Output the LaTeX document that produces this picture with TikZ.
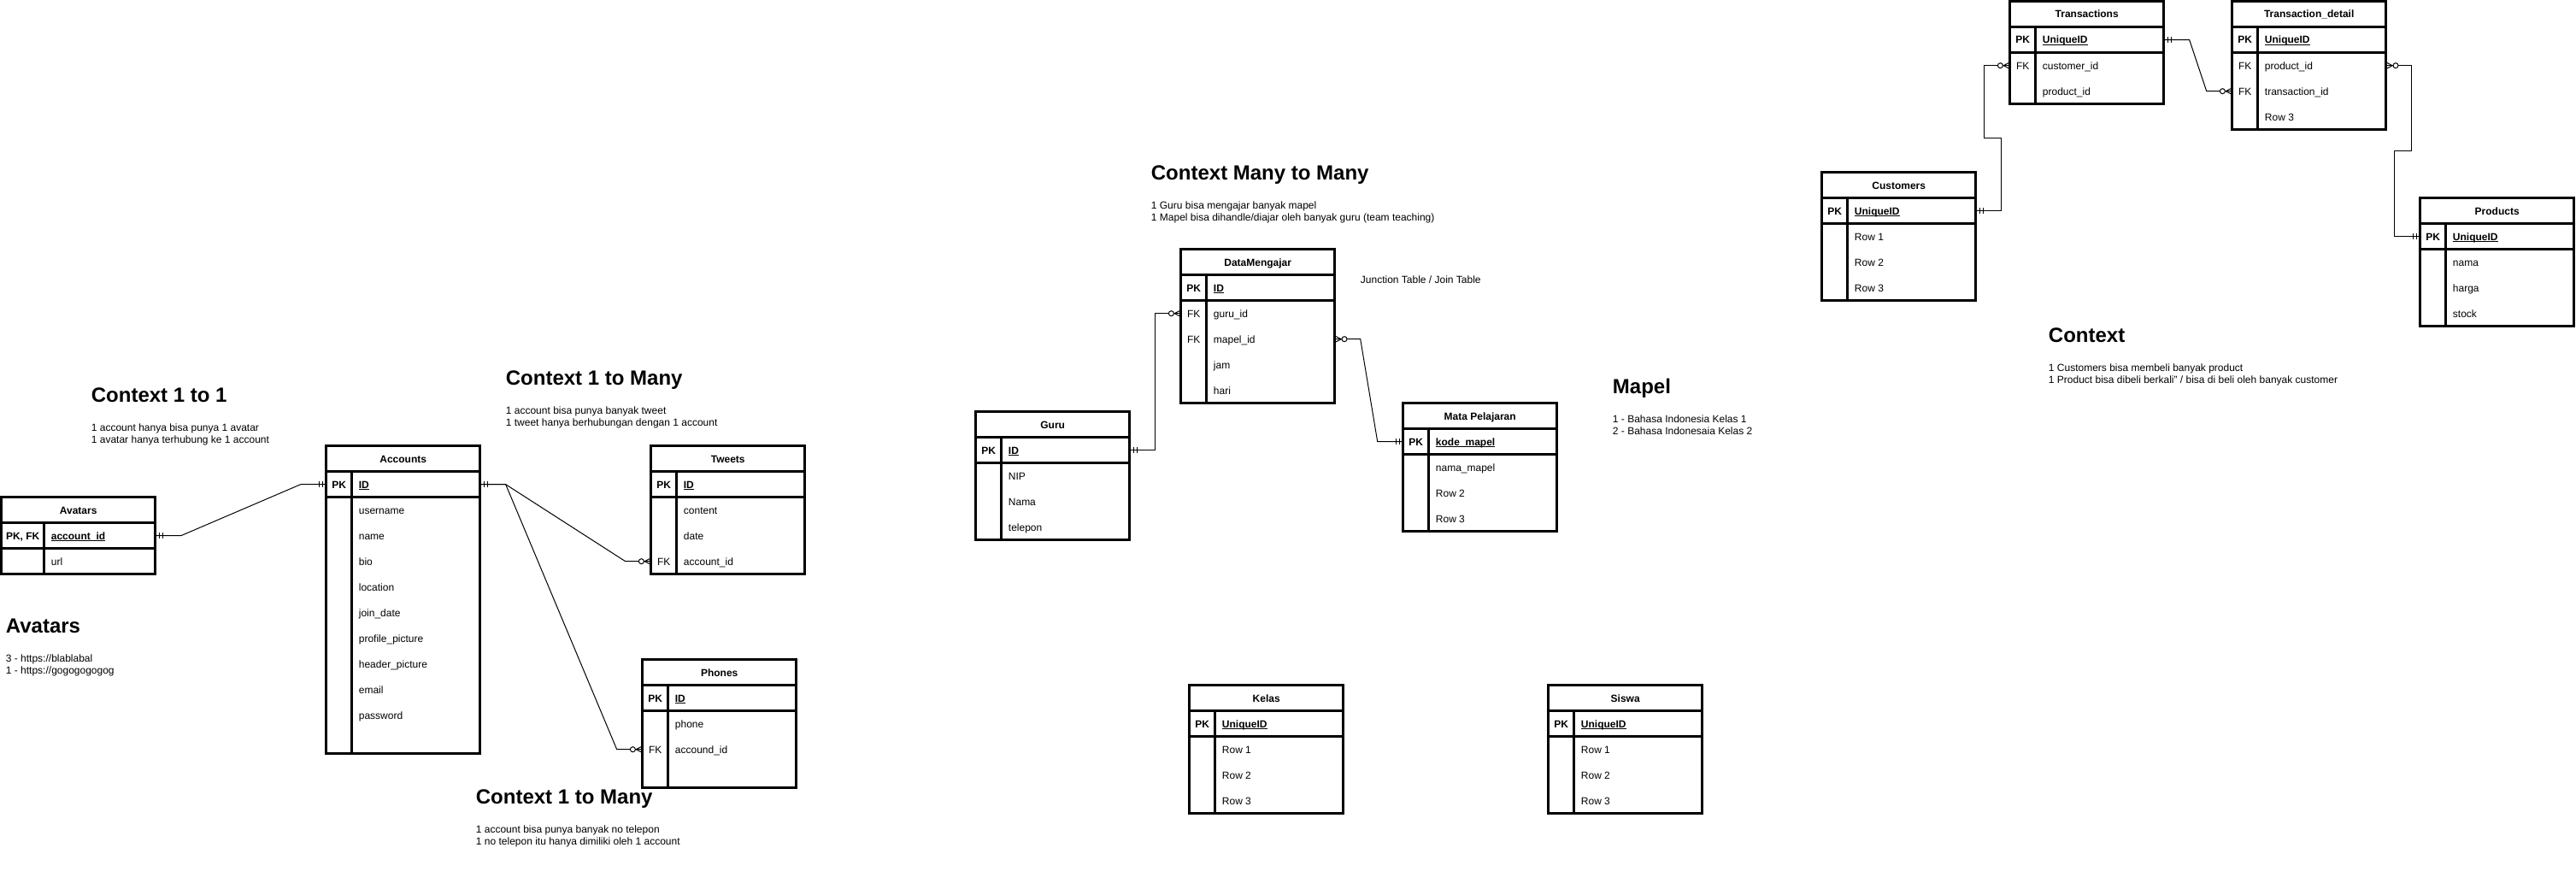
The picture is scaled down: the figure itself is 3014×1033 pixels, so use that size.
\documentclass[tikz,border=0pt]{standalone}
\usepackage{fontspec}
\setmainfont{Liberation Sans}
\usetikzlibrary{calc}
\newcommand\pkline[1]{\setbox0\hbox{\bfseries #1}\rlap{\rule[-2pt]{\wd0}{0.9pt}}\box0}
\tikzset{
  tabline/.style={line width=3pt, black},
  conn/.style={line width=1pt, black},
  rowbox/.style={rectangle, minimum width=180pt, minimum height=30pt, inner sep=0pt, outer sep=0pt},
  hdrtext/.style={anchor=base, inner sep=0pt, font=\fontsize{12}{14}\selectfont\bfseries},
  keytext/.style={anchor=base, inner sep=0pt, font=\fontsize{12}{14}\selectfont},
  keybold/.style={anchor=base, inner sep=0pt, font=\fontsize{12}{14}\selectfont\bfseries},
  fieldtext/.style={anchor=base west, inner sep=0pt, font=\fontsize{12}{14}\selectfont},
  headtxt/.style={anchor=base west, inner sep=0pt, font=\fontsize{24}{29}\selectfont\bfseries},
  bodytxt/.style={anchor=base west, inner sep=0pt, font=\fontsize{12}{14}\selectfont},
}
% #1 name, #2 x, #3 y, #4 key width, #5 title, #6 pk key, #7 pk field, #8 rows key/field
\newcommand\ertable[8]{%
\begin{scope}[shift={(#2,#3)}]
  \node[hdrtext] (#1-h) at (90,19.3) {#5};
  \node[rowbox] (#1-0) at (90,45) {};
  \node[keybold] (#1-k0) at (#4/2,49.3) {#6};
  \node[fieldtext] (#1-f0) at (#4+8,49.3) {\pkline{#7}};
  \gdef\nrows{0}
  \foreach \k/\f [count=\i] in {#8} {
    \node[rowbox] (#1-\i) at (90,45+30*\i) {};
    \node[keytext] (#1-k\i) at (#4/2,49.3+30*\i) {\k};
    \node[fieldtext] (#1-f\i) at (#4+8,49.3+30*\i) {\f};
    \xdef\nrows{\i}
  }
  \draw[tabline] (0,0) rectangle (180,60+30*\nrows);
  \draw[tabline] (0,30) -- (180,30);
  \draw[tabline] (0,60) -- (180,60);
  \draw[tabline] (#4,30) -- (#4,60+30*\nrows);
\end{scope}}
% mandatory-one marker: #1 anchor, #2 direction (+1 right, -1 left)
\newcommand\mkone[2]{%
  \draw[conn] ($(#1)+(#2*4.3,-3.5)$) -- ++(0,7);
  \draw[conn] ($(#1)+(#2*8.3,-3.5)$) -- ++(0,7);}
% zero-to-many marker
\newcommand\mkmany[2]{%
  \draw[conn] ($(#1)+(#2*7.5,0)$) -- ($(#1)+(0,-3.8)$);
  \draw[conn] ($(#1)+(#2*7.5,0)$) -- ($(#1)+(0,3.8)$);
  \draw[conn,fill=white] ($(#1)+(#2*11.3,0)$) circle[radius=3];}
\begin{document}
\begin{tikzpicture}[x=1pt,y=-1pt]
\path[use as bounding box, fill=white] (-1.7,-1.7) rectangle (3012.3,1031.3);

% ---------- tables ----------
\ertable{av}{0}{580}{50}{Avatars}{PK, FK}{account\_id}{{}/url}
\ertable{acc}{380}{520}{30}{Accounts}{PK}{ID}{{}/username,{}/name,{}/bio,{}/location,{}/join\_date,{}/profile\_picture,{}/header\_picture,{}/email,{}/password,{}/{}}
\ertable{tw}{760}{520}{30}{Tweets}{PK}{ID}{{}/content,{}/date,FK/account\_id}
\ertable{ph}{750}{770}{30}{Phones}{PK}{ID}{{}/phone,FK/accound\_id,{}/{}}
\ertable{guru}{1140}{480}{30}{Guru}{PK}{ID}{{}/NIP,{}/Nama,{}/telepon}
\ertable{dm}{1380}{290}{30}{DataMengajar}{PK}{ID}{FK/guru\_id,FK/mapel\_id,{}/jam,{}/hari}
\ertable{mp}{1640}{470}{30}{Mata Pelajaran}{PK}{kode\_mapel}{{}/nama\_mapel,{}/Row 2,{}/Row 3}
\ertable{kelas}{1390}{800}{30}{Kelas}{PK}{UniqueID}{{}/Row 1,{}/Row 2,{}/Row 3}
\ertable{siswa}{1810}{800}{30}{Siswa}{PK}{UniqueID}{{}/Row 1,{}/Row 2,{}/Row 3}
\ertable{cust}{2130}{200}{30}{Customers}{PK}{UniqueID}{{}/Row 1,{}/Row 2,{}/Row 3}
\ertable{tr}{2350}{0}{30}{Transactions}{PK}{UniqueID}{FK/customer\_id,{}/product\_id}
\ertable{td}{2610}{0}{30}{Transaction\_detail}{PK}{UniqueID}{FK/product\_id,FK/transaction\_id,{}/Row 3}
\ertable{pr}{2830}{230}{30}{Products}{PK}{UniqueID}{{}/nama,{}/harga,{}/stock}

% ---------- connectors ----------
\draw[conn] (av-0.east) -- ++(30,0) -- ($(acc-0.west)+(-30,0)$) -- (acc-0.west);
\draw[conn] (acc-0.east) -- ++(30,0) -- ($(tw-3.west)+(-30,0)$) -- (tw-3.west);
\draw[conn] (acc-0.east) -- ++(30,0) -- ($(ph-2.west)+(-30,0)$) -- (ph-2.west);
\draw[conn] (guru-0.east) -- ++(30,0) |- (dm-1.west);
\draw[conn] (dm-2.east) -- ++(30,0) -- ($(mp-0.west)+(-30,0)$) -- (mp-0.west);
\draw[conn] (cust-0.east) -- ++(30,0) -- ++(0,-85) -- ++(-20,0) |- (tr-1.west);
\draw[conn] (tr-0.east) -- ++(30,0) -- ($(td-2.west)+(-30,0)$) -- (td-2.west);
\draw[conn] (td-1.east) -- ++(30,0) -- ++(0,100) -- ++(-20,0) |- (pr-0.west);

\mkone{av-0.east}{1}
\mkone{acc-0.west}{-1}
\mkone{acc-0.east}{1}
\mkone{guru-0.east}{1}
\mkone{mp-0.west}{-1}
\mkone{cust-0.east}{1}
\mkone{tr-0.east}{1}
\mkone{pr-0.west}{-1}
\mkmany{tw-3.west}{-1}
\mkmany{ph-2.west}{-1}
\mkmany{dm-1.west}{-1}
\mkmany{dm-2.east}{1}
\mkmany{tr-1.west}{-1}
\mkmany{td-2.west}{-1}
\mkmany{td-1.east}{1}

% ---------- text ----------
\node[headtxt] (c11h) at (105,468.6) {Context 1 to 1};
\node[bodytxt] (c11a) at (105,502.6) {1 account hanya bisa punya 1 avatar};
\node[bodytxt] (c11b) at (105,516.6) {1 avatar hanya terhubung ke 1 account};

\node[headtxt] (avh) at (5,738.6) {Avatars};
\node[bodytxt] (ava) at (5,772.6) {3 - https://blablabal};
\node[bodytxt] (avb) at (5,786.6) {1 - https://gogogogogog};

\node[headtxt] (c1mh) at (590,448.6) {Context 1 to Many};
\node[bodytxt] (c1ma) at (590,482.6) {1 account bisa punya banyak tweet};
\node[bodytxt] (c1mb) at (590,496.6) {1 tweet hanya berhubungan dengan 1 account};

\node[headtxt] (c2mh) at (555,938.6) {Context 1 to Many};
\node[bodytxt] (c2ma) at (555,972.6) {1 account bisa punya banyak no telepon};
\node[bodytxt] (c2mb) at (555,986.6) {1 no telepon itu hanya dimiliki oleh 1 account};

\node[headtxt] (cmmh) at (1345,208.6) {Context Many to Many};
\node[bodytxt] (cmma) at (1345,242.6) {1 Guru bisa mengajar banyak mapel};
\node[bodytxt] (cmmb) at (1345,256.6) {1 Mapel bisa dihandle/diajar oleh banyak guru (team teaching)};

\node[bodytxt] (junc) at (1590,329.3) {Junction Table / Join Table};

\node[headtxt] (maph) at (1885,458.6) {Mapel};
\node[bodytxt] (mapa) at (1885,492.6) {1 - Bahasa Indonesia Kelas 1};
\node[bodytxt] (mapb) at (1885,506.6) {2 - Bahasa Indonesaia Kelas 2};

\node[headtxt] (cxh) at (2395,398.6) {Context};
\node[bodytxt] (cxa) at (2395,432.6) {1 Customers bisa membeli banyak product};
\node[bodytxt] (cxb) at (2395,446.6) {1 Product bisa dibeli berkali" / bisa di beli oleh banyak customer};
\end{tikzpicture}
\end{document}
